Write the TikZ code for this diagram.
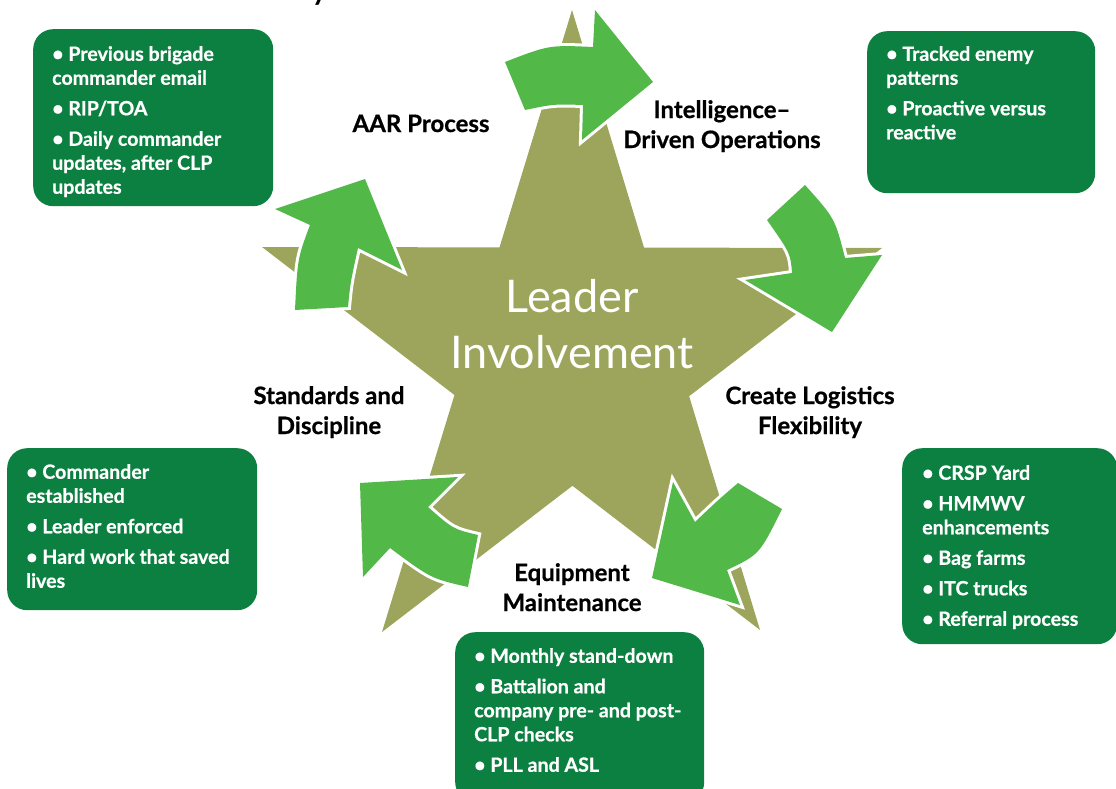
\documentclass[tikz,border=0pt]{standalone}
\usepackage{fontspec}
\setmainfont{Lato}[BoldFeatures={FakeBold=0.7}]
\usetikzlibrary{calc}
\definecolor{boxgreen}{RGB}{12,128,64}
\definecolor{arrgreen}{RGB}{82,184,72}
\definecolor{starolive}{RGB}{157,165,92}
\begin{document}
\begin{tikzpicture}[x=1pt,y=-1pt,
  box/.style={fill=boxgreen, rounded corners=20pt, anchor=north west, inner sep=0pt},
  boxtext/.style={text=white, font=\fontsize{19.6}{24}\selectfont\bfseries, align=left, inner sep=0pt, anchor=north west},
  lbl/.style={font=\fontsize{24}{30}\selectfont\bfseries, align=center, inner sep=0pt},
  arr/.style={fill=arrgreen, preaction={draw=white, line width=6pt, line join=miter}},
]
\useasboundingbox (0,0) rectangle (1116,789);
% title fragment
\node[anchor=base, inner sep=0pt] (ttl) at (321,-1) {\fontsize{40}{40}\selectfont y};
% star
\coordinate (sT) at (572,10);
\coordinate (sL) at (262,247);
\coordinate (sR) at (882,248);
\coordinate (sBL) at (382,632);
\coordinate (sBR) at (760,630);
\coordinate (iTL) at (intersection of sT--sBL and sL--sR);
\coordinate (iTR) at (intersection of sT--sBR and sL--sR);
\coordinate (iRR) at (intersection of sT--sBR and sR--sBL);
\coordinate (iB) at (intersection of sL--sBR and sR--sBL);
\coordinate (iLL) at (intersection of sT--sBL and sL--sBR);
\fill[starolive] (sT) -- (iTR) -- (sR) -- (iRR) -- (sBR) -- (iB) -- (sBL) -- (iLL) -- (sL) -- (iTL) -- cycle;
% arrows
\path[arr] (505,62) .. controls (549,45) .. (593,47) -- (595,10) -- (653,82) -- (582,140) -- (583,105) .. controls (554,104) .. (525,110) -- cycle;
\path[arr] (767,220) -- (805,185) .. controls (835,218.5) .. (845,258) -- (882,255) -- (832,332) -- (745,280) -- (792,273) .. controls (790.5,253.5) .. (767,220) -- cycle;
\path[arr] (738,483) -- (782,509) .. controls (759.5,554.5) .. (727,570) -- (740,605) -- (652,578) -- (673,482) -- (695,522) .. controls (717,501) .. (738,483) -- cycle;
\path[arr] (478,535) -- (468,587) .. controls (431,578.5) .. (390,548) -- (363,577) -- (360,483) -- (458,477) -- (428,507) .. controls (453,529) .. (478,535) -- cycle;
\path[arr] (295,310) .. controls (297.5,258.5) .. (310,225) -- (275,209) -- (365,179) -- (402,270) -- (358,248) .. controls (350.4,282.5) .. (348,307) -- cycle;
% center text
\node[text=white, font=\fontsize{45}{56}\selectfont, align=center, inner sep=0pt, anchor=north] (ctr) at (572,279) {Leader\\Involvement};
% labels
\node[lbl, anchor=base] (l1) at (421,132) {AAR Process};
\node[lbl, anchor=north] (l2) at (722,100) {Intelligence–\\Driven Operations};
\node[lbl, anchor=north] (l3) at (810,386) {Create Logistics\\Flexibility};
\node[lbl, anchor=north] (l4) at (572,563) {Equipment\\Maintenance};
\node[lbl, anchor=north] (l5) at (329,386) {Standards and\\Discipline};
% boxes
\node[box, minimum width=240pt, minimum height=177pt] (b1) at (33,29) {};
\node[box, minimum width=228pt, minimum height=162pt] (b2) at (867,31) {};
\node[box, minimum width=215pt, minimum height=196pt] (b3) at (902,448) {};
\node[box, minimum width=250pt, minimum height=162pt] (b4) at (7,448) {};
\node[box, minimum width=249pt, minimum height=170pt] (b5) at (455,632) {};
\node[boxtext] (t1) at (52,46) {• Previous brigade\\commander email\\[6.5pt]• RIP/TOA\\[6.5pt]• Daily commander\\updates, after CLP\\updates};
\node[boxtext] (t2) at (886,46) {• Tracked enemy\\patterns\\[6.5pt]• Proactive versus\\reactive};
\node[boxtext] (t3) at (922,465) {• CRSP Yard\\[6.5pt]• HMMWV\\enhancements\\[6.5pt]• Bag farms\\[6.5pt]• ITC trucks\\[6.5pt]• Referral process};
\node[boxtext] (t4) at (26,464) {• Commander\\established\\[6.5pt]• Leader enforced\\[6.5pt]• Hard work that saved\\lives};
\node[boxtext] (t5) at (474,648) {• Monthly stand-down\\[6.5pt]• Battalion and\\company pre- and post-\\CLP checks\\[6.5pt]• PLL and ASL};
\end{tikzpicture}
\end{document}
